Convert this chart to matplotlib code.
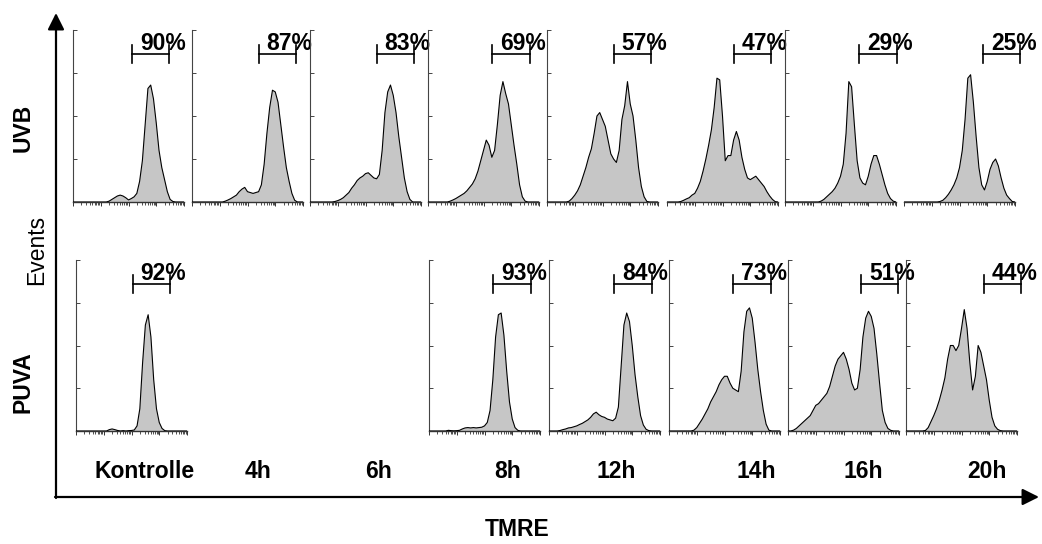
import numpy as np
import matplotlib
matplotlib.use("Agg")
import matplotlib.pyplot as plt

plt.rcParams['font.family'] = ['Liberation Sans', 'DejaVu Sans']

# ---------------- data ----------------
categories = ['Kontrolle', '4h', '6h', '8h', '12h', '14h', '16h', '20h']
uvb_pct = [90, 87, 83, 69, 57, 47, 29, 25]
puva_pct = [92, None, None, 93, 84, 73, 51, 44]
# gate start (fraction of TMRE axis)
uvb_gate = [0.53, 0.60, 0.60, 0.58, 0.60, 0.60, 0.67, 0.71]
puva_gate = [0.51, None, None, 0.58, 0.59, 0.58, 0.66, 0.70]
gate_width = 0.335

# histogram heights (fraction of axis height) at 41 evenly spaced TMRE channels
uvb_kontrolle = [0, 0, 0, 0, 0, 0, 0, 0, 0, 0, 0, 0, 0, 0.005, 0.015, 0.025, 0.035, 0.04, 0.035, 0.025,
                 0.012, 0.02, 0.03, 0.05, 0.12, 0.24, 0.45, 0.66, 0.68, 0.6, 0.46, 0.3, 0.2, 0.13, 0.06, 0.015,
                 0.003, 0, 0, 0, 0]
uvb_4h = [0, 0, 0, 0, 0, 0, 0, 0, 0, 0, 0, 0, 0.005, 0.012, 0.02, 0.03, 0.04, 0.06, 0.075, 0.085,
          0.06, 0.055, 0.05, 0.055, 0.06, 0.1, 0.22, 0.4, 0.55, 0.65, 0.64, 0.58, 0.45, 0.32, 0.2, 0.12,
          0.05, 0.01, 0, 0, 0]
uvb_6h = [0, 0, 0, 0, 0, 0, 0, 0, 0, 0.003, 0.008, 0.015, 0.025, 0.04, 0.055, 0.08, 0.1, 0.125, 0.14, 0.15,
          0.165, 0.17, 0.155, 0.14, 0.135, 0.16, 0.3, 0.52, 0.64, 0.68, 0.62, 0.52, 0.38, 0.26, 0.14, 0.06,
          0.015, 0, 0, 0, 0]
uvb_8h = [0, 0, 0, 0, 0, 0, 0, 0, 0.005, 0.012, 0.02, 0.03, 0.04, 0.05, 0.065, 0.085, 0.105, 0.135, 0.18, 0.24,
          0.3, 0.36, 0.33, 0.26, 0.3, 0.45, 0.62, 0.7, 0.63, 0.57, 0.45, 0.33, 0.22, 0.1, 0.03, 0.005,
          0, 0, 0, 0, 0]
uvb_12h = [0, 0, 0, 0, 0, 0, 0, 0, 0.005, 0.02, 0.04, 0.065, 0.1, 0.15, 0.2, 0.26, 0.31, 0.4, 0.5, 0.52,
           0.48, 0.44, 0.36, 0.28, 0.25, 0.23, 0.3, 0.48, 0.56, 0.7, 0.57, 0.5, 0.36, 0.2, 0.09, 0.03,
           0.003, 0, 0, 0, 0]
uvb_14h = [0, 0, 0, 0, 0, 0.003, 0.01, 0.018, 0.025, 0.04, 0.05, 0.08, 0.12, 0.18, 0.25, 0.33, 0.42, 0.55, 0.72, 0.71,
           0.5, 0.24, 0.27, 0.27, 0.36, 0.41, 0.36, 0.26, 0.19, 0.14, 0.13, 0.14, 0.15, 0.13, 0.11, 0.09,
           0.06, 0.035, 0.015, 0.002, 0]
uvb_16h = [0, 0, 0, 0, 0, 0, 0, 0, 0, 0, 0, 0, 0, 0.005, 0.015, 0.03, 0.045, 0.06, 0.08, 0.11,
           0.15, 0.22, 0.4, 0.7, 0.67, 0.45, 0.24, 0.14, 0.11, 0.1, 0.15, 0.22, 0.27, 0.27, 0.22, 0.16,
           0.1, 0.05, 0.02, 0.005, 0]
uvb_20h = [0, 0, 0, 0, 0, 0, 0, 0, 0, 0, 0, 0, 0, 0.003, 0.01, 0.025, 0.045, 0.07, 0.1, 0.14,
           0.2, 0.3, 0.48, 0.72, 0.74, 0.58, 0.38, 0.2, 0.1, 0.07, 0.12, 0.19, 0.23, 0.25, 0.21, 0.14,
           0.08, 0.04, 0.02, 0.003, 0]
puva_kontrolle = [0, 0, 0, 0, 0, 0, 0, 0, 0, 0, 0, 0, 0.008, 0.012, 0.008, 0.003, 0, 0.002, 0, 0.002,
                  0.003, 0.006, 0.03, 0.13, 0.4, 0.62, 0.68, 0.55, 0.3, 0.13, 0.05, 0.015, 0.002, 0, 0, 0,
                  0, 0, 0, 0, 0]
puva_8h = [0, 0, 0, 0, 0, 0, 0, 0.004, 0.002, 0.001, 0.002, 0.004, 0.012, 0.018, 0.02, 0.018, 0.02, 0.018, 0.02, 0.022,
           0.03, 0.05, 0.12, 0.3, 0.55, 0.68, 0.69, 0.56, 0.35, 0.17, 0.07, 0.02, 0.004, 0, 0, 0,
           0, 0, 0, 0, 0]
puva_12h = [0, 0, 0, 0, 0.003, 0.008, 0.012, 0.018, 0.02, 0.025, 0.03, 0.038, 0.045, 0.055, 0.065, 0.08, 0.1, 0.11, 0.095, 0.085,
            0.08, 0.07, 0.065, 0.06, 0.075, 0.14, 0.38, 0.62, 0.69, 0.64, 0.5, 0.33, 0.2, 0.09, 0.035, 0.01,
            0.002, 0, 0, 0, 0]
puva_14h = [0, 0, 0, 0, 0, 0, 0, 0, 0, 0.005, 0.02, 0.045, 0.07, 0.1, 0.13, 0.17, 0.2, 0.23, 0.27, 0.3,
            0.32, 0.32, 0.28, 0.25, 0.24, 0.23, 0.35, 0.58, 0.7, 0.72, 0.66, 0.52, 0.36, 0.23, 0.12, 0.04,
            0.005, 0, 0, 0, 0]
puva_16h = [0, 0, 0.005, 0.015, 0.03, 0.045, 0.06, 0.075, 0.09, 0.12, 0.15, 0.16, 0.18, 0.2, 0.22, 0.26, 0.32, 0.38, 0.42, 0.44,
            0.46, 0.42, 0.36, 0.28, 0.24, 0.25, 0.36, 0.55, 0.66, 0.7, 0.67, 0.6, 0.45, 0.28, 0.12, 0.05,
            0.015, 0.004, 0, 0, 0]
puva_20h = [0, 0, 0, 0, 0, 0, 0, 0.003, 0.02, 0.055, 0.09, 0.13, 0.18, 0.24, 0.31, 0.42, 0.5, 0.5, 0.47, 0.5,
            0.6, 0.71, 0.6, 0.4, 0.24, 0.32, 0.5, 0.46, 0.38, 0.3, 0.18, 0.08, 0.03, 0.01, 0.002, 0,
            0, 0, 0, 0, 0]

uvb_hists = [uvb_kontrolle, uvb_4h, uvb_6h, uvb_8h, uvb_12h, uvb_14h, uvb_16h, uvb_20h]
puva_hists = [puva_kontrolle, None, None, puva_8h, puva_12h, puva_14h, puva_16h, puva_20h]

# ---------------- layout (pixels) ----------------
W, H = 1042, 544
fig = plt.figure(figsize=(W / 100, H / 100), dpi=100)

over = fig.add_axes([0, 0, 1, 1])
over.set_xlim(0, W)
over.set_ylim(H, 0)
over.axis('off')

top_lefts = [73, 192, 310, 428, 547, 667, 785, 904]
bot_lefts = [76, None, None, 429, 549, 669, 788, 906]
top_left_axis = [True, True, True, True, True, False, True, False]
panel_w = 111
rows = [(30, 202, top_lefts, uvb_hists, uvb_pct, uvb_gate, top_left_axis),
        (260, 431, bot_lefts, puva_hists, puva_pct, puva_gate, [True] * 8)]

FS = 16.5
fill_col = '#c6c6c6'

major = [0, 0.25, 0.5, 0.75, 1.0]
minor = [d / 4 + np.log10(k) / 4 for d in range(4) for k in range(2, 10)]

for (ytop, ybot, lefts, hists, pcts, gates, showleft) in rows:
    for i in range(8):
        if lefts[i] is None or hists[i] is None:
            continue
        L = lefts[i]
        ax = fig.add_axes([L / W, 1 - ybot / H, panel_w / W, (ybot - ytop) / H])
        ax.patch.set_alpha(0)
        h = np.array(hists[i], dtype=float)
        x = np.linspace(0, 1, len(h))
        ax.fill_between(x, 0, h, facecolor=fill_col, edgecolor='none', lw=0, zorder=2)
        ax.plot(x, h, color='black', lw=0.8, zorder=3)
        ax.set_xlim(0, 1)
        ax.set_ylim(0, 1)
        for s in ['top', 'right']:
            ax.spines[s].set_visible(False)
        ax.spines['bottom'].set_color('#333333')
        ax.spines['bottom'].set_linewidth(1.0)
        if showleft[i]:
            ax.spines['left'].set_color('#444444')
            ax.spines['left'].set_linewidth(0.8)
            ax.set_yticks(major)
            ax.tick_params(axis='y', direction='in', length=3, width=0.7, color='#444444',
                           labelleft=False)
        else:
            ax.spines['left'].set_visible(False)
            ax.set_yticks([])
        ax.set_xticks(major)
        ax.set_xticks(minor, minor=True)
        ax.tick_params(axis='x', which='major', direction='out', length=3, width=0.7,
                       color='#333333', labelbottom=False)
        ax.tick_params(axis='x', which='minor', direction='out', length=2, width=0.6,
                       color='#333333')
        # gate bracket
        g0 = gates[i]
        g1 = g0 + gate_width
        gy = 0.86
        ax.plot([g0, g1], [gy, gy], color='black', lw=1.2, clip_on=False, zorder=4)
        ax.plot([g0, g0], [gy - 0.052, gy + 0.052], color='black', lw=1.2, clip_on=False, zorder=4)
        ax.plot([g1, g1], [gy - 0.052, gy + 0.052], color='black', lw=1.2, clip_on=False, zorder=4)
        ax.text((g0 + g1) / 2 + 0.11, gy + 0.025, f'{pcts[i]}%', ha='center', va='baseline',
                fontsize=FS, fontweight='bold', clip_on=False, zorder=5)

# big axes arrows
over.annotate('', xy=(56, 13), xytext=(56, 498),
              arrowprops=dict(arrowstyle='-|>,head_length=1.0,head_width=0.5', lw=1.6,
                              color='black', shrinkA=0, shrinkB=0))
over.annotate('', xy=(1039, 497), xytext=(55, 497),
              arrowprops=dict(arrowstyle='-|>,head_length=1.0,head_width=0.5', lw=1.6,
                              color='black', shrinkA=0, shrinkB=0))

# category labels
label_x = [145, 258, 379, 508, 616, 756, 863, 987]
for cx, c in zip(label_x, categories):
    over.text(cx, 472, c, ha='center', va='center', fontsize=FS, fontweight='bold')

over.text(517, 530, 'TMRE', ha='center', va='center', fontsize=FS, fontweight='bold')
over.text(37, 250, 'Events', ha='center', va='center', rotation=90, fontsize=FS)
over.text(23, 128, 'UVB', ha='center', va='center', rotation=90, fontsize=FS, fontweight='bold')
over.text(23, 382, 'PUVA', ha='center', va='center', rotation=90, fontsize=FS, fontweight='bold')

fig.savefig('out.png', dpi=100)
